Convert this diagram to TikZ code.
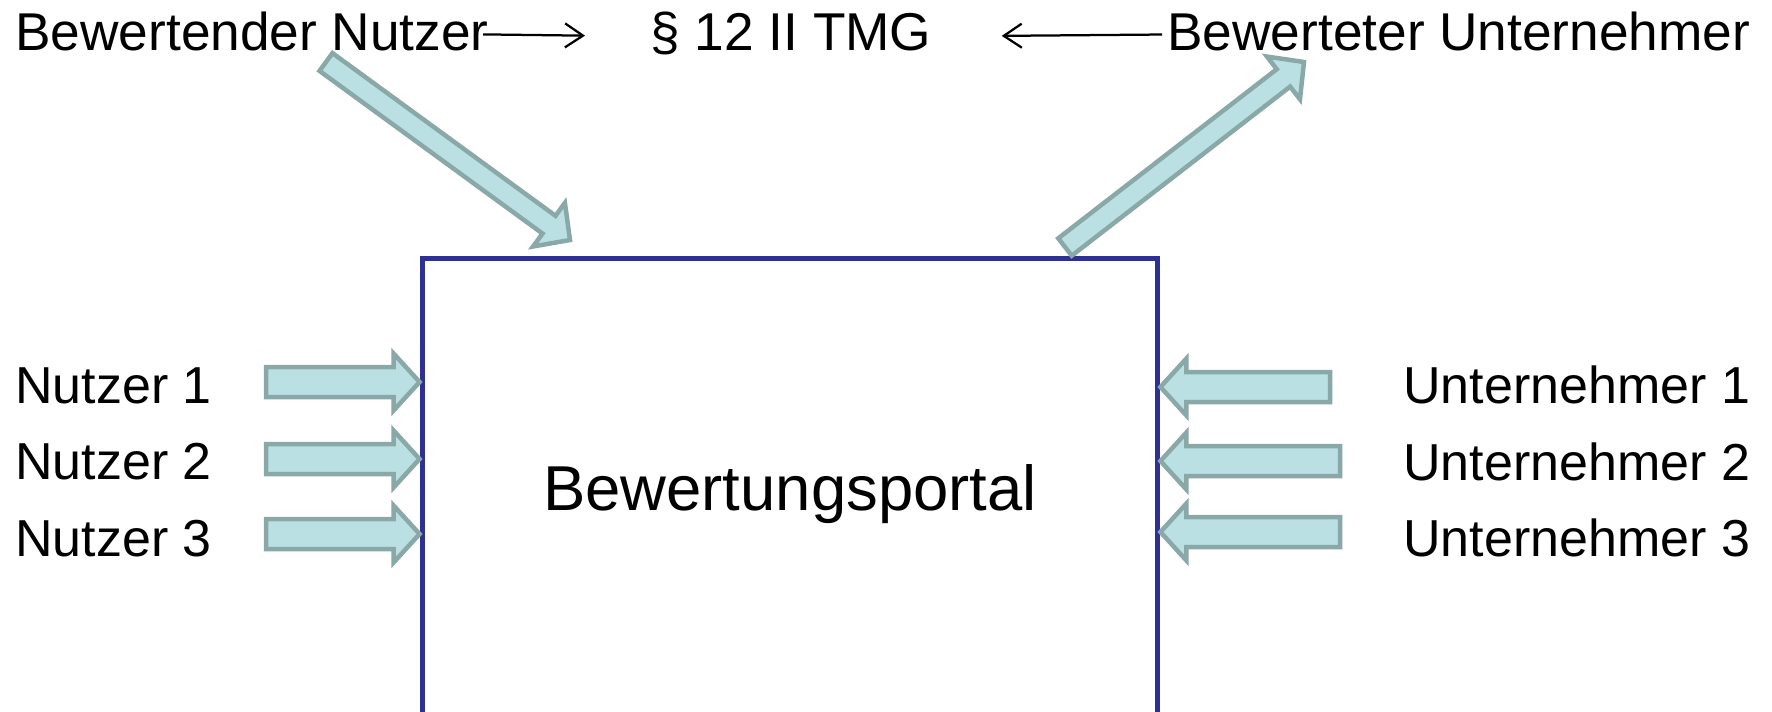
\documentclass[tikz,border=0pt]{standalone}
\usepackage{fontspec}
\setmainfont{Liberation Sans}
\usetikzlibrary{calc,arrows.meta}
\definecolor{arrowfill}{RGB}{186,224,228}
\definecolor{arrowline}{RGB}{138,168,168}
\definecolor{portalblue}{RGB}{46,49,146}
\tikzset{
	label/.style={inner sep=0,anchor=base west,font=\fontsize{29.6}{34}\selectfont},
	toplabel/.style={label,font=\fontsize{30.3}{35}\selectfont},
	blockarrow/.style={draw=arrowline,fill=arrowfill,line width=0.09cm,line join=miter},
	smallarrow/.style={line width=0.045cm,-{Straight Barb[length=0.36cm,width=0.48cm]}}
}
% #1 tail, #2 tip, #3 half shaft, #4 half head
\newcommand{\fatarrow}[4]{%
	\coordinate (fah) at ($(#2)!0.52cm!(#1)$);
	\draw[blockarrow] ($(#1)!#3!90:(#2)$) -- ($(fah)!#3!90:(#2)$) -- ($(fah)!#4!90:(#2)$) -- (#2)
	-- ($(fah)!#4!-90:(#2)$) -- ($(fah)!#3!-90:(#2)$) -- ($(#1)!#3!-90:(#2)$) -- cycle;
}
\begin{document}
\begin{tikzpicture}[x=0.02cm,y=-0.02cm]
	\useasboundingbox (0,0) rectangle (1772,711);
	\clip (0,0) rectangle (1772,711);
	% portal
	\node[draw=portalblue,line width=0.1cm,minimum width=14.72cm,minimum height=9.46cm,inner sep=0,font=\fontsize{36.1}{42}\selectfont] (portal) at (790,494.5) {Bewertungsportal};
	% top
	\node[toplabel] (bnutzer) at (15,50) {Bewertender Nutzer};
	\node[toplabel] (tmg) at (650,50) {§ 12 II TMG};
	\node[toplabel] (bunternehmer) at (1167,50) {Bewerteter Unternehmer};
	\draw[smallarrow,shorten <=-0.12cm,shorten >=1.3cm] ([yshift=-0.07cm]bnutzer.east) -- ([yshift=-0.07cm]tmg.west);
	\draw[smallarrow,shorten <=0.1cm,shorten >=1.4cm] ([yshift=-0.07cm]bunternehmer.west) -- ([yshift=-0.07cm]tmg.east);
	\coordinate (dl1) at (326,62);
	\coordinate (dl2) at (570,240);
	\coordinate (dr1) at (1065,247);
	\coordinate (dr2) at (1304,62);
	\fatarrow{dl1}{dl2}{0.22cm}{0.54cm}
	\fatarrow{dr1}{dr2}{0.22cm}{0.54cm}
	% Nutzer
	\foreach \i/\y/\b in {1/382/403,2/459/479,3/534/556}{
		\node[label] (nutzer\i) at (15,\b) {Nutzer \i};
		\coordinate (nt\i) at (266,\y);
		\coordinate (np\i) at (portal.west |- nt\i);
		\fatarrow{nt\i}{np\i}{0.3cm}{0.57cm}
	}
	% Unternehmer
	\foreach \i/\y/\b/\x in {1/387/403/1330,2/461/480/1340,3/532/556/1340}{
		\node[label] (unternehmer\i) at (1403,\b) {Unternehmer \i};
		\coordinate (ut\i) at (\x,\y);
		\coordinate (up\i) at (portal.east |- ut\i);
		\fatarrow{ut\i}{up\i}{0.3cm}{0.57cm}
	}
\end{tikzpicture}
\end{document}
